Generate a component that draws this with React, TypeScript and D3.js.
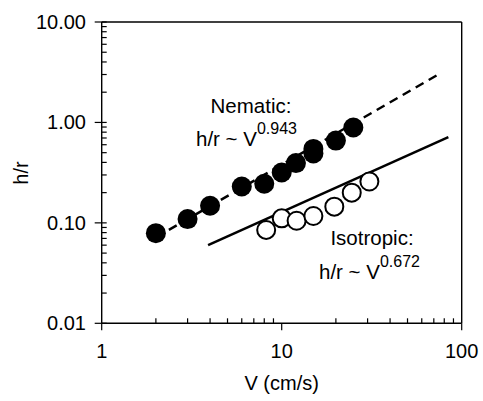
import React from "react";
import * as d3 from "d3";

const W = 483;
const H = 401;

// Nematic (filled circles)
const nematicV = [2, 3, 4, 6, 8, 10, 12, 15, 15, 20, 25];
const nematicH = [0.079, 0.109, 0.148, 0.23, 0.245, 0.317, 0.394, 0.49, 0.545, 0.66, 0.89];

// Isotropic (open circles)
const isoV = [8.2, 10, 12.1, 15, 19.6, 24.5, 30.7];
const isoH = [0.085, 0.111, 0.105, 0.117, 0.145, 0.2, 0.258];

// Fit lines (endpoints)
const nematicFitV = [2, 74];
const nematicFitH = [0.0716, 3.0];
const isoFitV = [3.9, 84.3];
const isoFitH = [0.06, 0.715];

const yTickValues = [0.01, 0.1, 1, 10];
const yTickLabels = ["0.01", "0.10", "1.00", "10.00"];
const xTickValues = [1, 10, 100];
const xTickLabels = ["1", "10", "100"];

const FONT = "'Liberation Sans', Arial, Helvetica, sans-serif";

export default function App() {
  const x = d3.scaleLog().domain([1, 100]).range([101.7, 461.7]);
  const y = d3.scaleLog().domain([0.01, 10]).range([323.3, 22]);

  const minorX: number[] = [];
  for (const d of [1, 10]) for (let k = 2; k <= 9; k++) minorX.push(d * k);
  const minorY: number[] = [];
  for (const d of [0.01, 0.1, 1]) for (let k = 2; k <= 9; k++) minorY.push(d * k);

  const line = d3
    .line<[number, number]>()
    .x((d) => x(d[0]))
    .y((d) => y(d[1]));

  const nemFit = line(nematicFitV.map((v, i) => [v, nematicFitH[i]] as [number, number])) || "";
  const isoFit = line(isoFitV.map((v, i) => [v, isoFitH[i]] as [number, number])) || "";

  const x0 = x(1), x1 = x(100), y0 = y(0.01), y1 = y(10);

  return (
    <svg width={W} height={H} style={{ position: "absolute", left: 0, top: 0, background: "#fff" }} fontFamily={FONT}>
      <rect width={W} height={H} fill="#fff" />
      {/* frame */}
      <g stroke="#000" strokeWidth={1.4} fill="none">
        <line x1={x0} y1={y1} x2={x1} y2={y1} />
        <line x1={x1} y1={y1} x2={x1} y2={y0} />
        <line x1={x0} y1={y0} x2={x1} y2={y0} />
        <line x1={x0} y1={y1} x2={x0} y2={y0} />
      </g>
      {/* ticks */}
      <g stroke="#000" strokeWidth={1.2}>
        {yTickValues.map((v) => (
          <line key={"ym" + v} x1={x0 - 7} x2={x0 + 5} y1={y(v)} y2={y(v)} />
        ))}
        {minorY.map((v) => (
          <line key={"yn" + v} x1={x0} x2={x0 + 5} y1={y(v)} y2={y(v)} />
        ))}
        {xTickValues.map((v) => (
          <line key={"xm" + v} x1={x(v)} x2={x(v)} y1={y0} y2={y0 + 7} />
        ))}
        {minorX.map((v) => (
          <line key={"xn" + v} x1={x(v)} x2={x(v)} y1={y0} y2={y0 - 5} />
        ))}
      </g>
      {/* tick labels */}
      <g fontSize={20} fill="#000">
        {yTickValues.map((v, i) => (
          <text key={"yl" + v} x={86} y={y(v)} dy="0.35em" textAnchor="end">
            {yTickLabels[i]}
          </text>
        ))}
        {xTickValues.map((v, i) => (
          <text key={"xl" + v} x={x(v)} y={358} textAnchor="middle">
            {xTickLabels[i]}
          </text>
        ))}
        <text x={x(10)} y={390} textAnchor="middle">V (cm/s)</text>
        <text transform={`translate(28,173) rotate(-90)`} textAnchor="middle">h/r</text>
      </g>
      {/* fit lines */}
      <path d={nemFit} stroke="#000" strokeWidth={2.5} fill="none" strokeDasharray="9,6" />
      <path d={isoFit} stroke="#000" strokeWidth={2.5} fill="none" />
      {/* points */}
      {isoV.map((v, i) => (
        <circle key={"i" + i} cx={x(v)} cy={y(isoH[i])} r={9} fill="#fff" stroke="#000" strokeWidth={2} />
      ))}
      {nematicV.map((v, i) => (
        <circle key={"n" + i} cx={x(v)} cy={y(nematicH[i])} r={10} fill="#000" />
      ))}
      {/* annotations */}
      <g fontSize={20.5} fill="#000">
        <text x={251} y={113} textAnchor="middle">Nematic:</text>
        <text x={196} y={146}>
          h/r ~ V<tspan fontSize={16} dy={-12}>0.943</tspan>
        </text>
        <text x={372} y={245} textAnchor="middle">Isotropic:</text>
        <text x={319} y={279}>
          h/r ~ V<tspan fontSize={16} dy={-12}>0.672</tspan>
        </text>
      </g>
    </svg>
  );
}
